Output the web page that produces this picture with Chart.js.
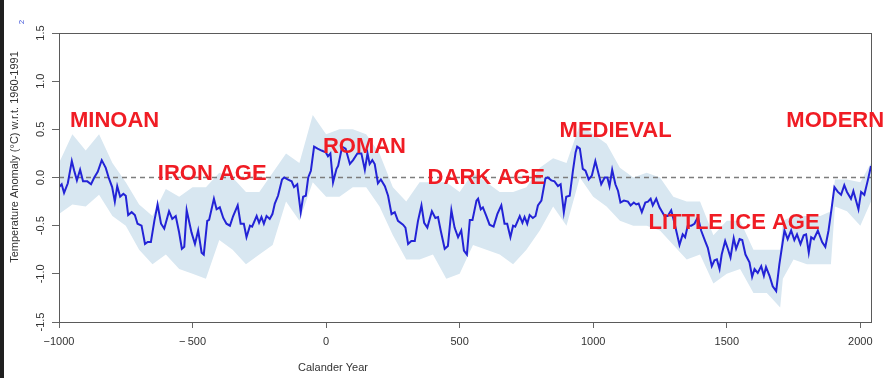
<!DOCTYPE html>
<html>
<head>
<meta charset="utf-8">
<script src="https://cdn.jsdelivr.net/npm/chart.js@4.4.0/dist/chart.umd.min.js"></script>
<style>
  html, body { margin: 0; padding: 0; background: #fff; }
  #wrap { position: relative; width: 887px; height: 378px; }
  #edge { position: absolute; left: 0; top: 0; width: 4px; height: 378px; background: #1f1f1f; }
</style>
</head>
<body>
<div id="wrap">
  <canvas id="chart" width="887" height="378"></canvas>
  <div id="edge"></div>
</div>
<script>
// reconstruction (calendar year) and anomaly in degC
var years = [
  -1000,-990,-981,-967,-952,-943,-933,-921,-910,-894,-880,-868,-855,-840,-825,-813,-801,-791,-782,-771,
  -759,-750,-741,-728,-716,-706,-691,-678,-668,-656,-643,-631,-618,-606,-588,-576,-563,-551,-540,-531,
  -522,-504,-491,-479,-466,-458,-445,-438,-420,-410,-398,-385,-373,-360,-348,-331,-320,-308,-298,-285,
  -277,-260,-251,-242,-233,-223,-211,-201,-192,-180,-165,-157,-144,-129,-120,-108,-95,-86,-76,-67,
  -57,-45,-32,-17,-1,7,16,26,39,45,60,73,89,101,117,132,145,155,163,173,
  182,194,205,220,232,245,257,269,288,297,307,319,332,344,357,367,379,396,409,419,
  429,444,456,469,481,494,506,516,527,538,548,563,569,579,587,600,612,627,641,656,
  668,678,690,700,708,725,735,743,753,762,774,784,793,806,821,830,843,855,868,878,
  890,899,912,924,934,940,950,961,971,983,995,1008,1020,1030,1043,1053,1061,1071,1083,1093,
  1102,1115,1130,1140,1152,1161,1170,1182,1195,1205,1215,1223,1236,1248,1267,1279,1292,1304,1323,1335,
  1344,1354,1367,1379,1392,1404,1419,1429,1444,1454,1463,1473,1481,1494,1504,1514,1526,1535,1548,1558,
  1570,1585,1595,1604,1616,1629,1639,1647,1660,1672,1685,1697,1716,1728,1741,1753,1763,1776,1788,1797,
  1807,1816,1826,1841,1857,1869,1881,1893,1903,1916,1928,1940,1950,1965,1974,1993,2003,2015,2028,2040
];
var anomaly = [
  -0.10,-0.07,-0.16,-0.06,0.17,0.07,-0.03,0.08,-0.04,-0.04,-0.07,0.00,0.06,0.18,0.10,-0.01,-0.10,-0.25,-0.09,-0.20,
  -0.17,-0.19,-0.39,-0.36,-0.39,-0.48,-0.50,-0.69,-0.67,-0.67,-0.45,-0.28,-0.48,-0.53,-0.35,-0.43,-0.40,-0.56,-0.74,-0.72,
  -0.34,-0.57,-0.69,-0.55,-0.78,-0.80,-0.45,-0.44,-0.22,-0.33,-0.31,-0.42,-0.48,-0.50,-0.40,-0.29,-0.48,-0.48,-0.62,-0.50,
  -0.51,-0.40,-0.47,-0.41,-0.48,-0.40,-0.43,-0.38,-0.27,-0.19,-0.02,0.00,-0.02,-0.04,-0.10,-0.07,-0.36,-0.20,-0.19,0.00,
  0.07,0.32,0.30,0.28,0.26,0.22,0.25,-0.05,0.09,0.12,0.32,0.30,0.14,0.18,0.25,0.25,0.08,0.25,0.14,0.18,
  0.14,-0.06,-0.02,-0.09,-0.19,-0.38,-0.36,-0.45,-0.49,-0.52,-0.69,-0.66,-0.66,-0.45,-0.29,-0.47,-0.52,-0.35,-0.42,-0.41,
  -0.55,-0.74,-0.71,-0.34,-0.52,-0.62,-0.55,-0.76,-0.80,-0.44,-0.44,-0.24,-0.22,-0.33,-0.31,-0.40,-0.49,-0.51,-0.38,-0.29,
  -0.48,-0.48,-0.62,-0.50,-0.51,-0.40,-0.47,-0.41,-0.48,-0.39,-0.42,-0.40,-0.29,-0.24,-0.01,0.00,-0.03,-0.04,-0.09,-0.07,
  -0.36,-0.20,-0.19,0.07,0.26,0.32,0.30,0.09,0.07,-0.02,0.02,0.17,0.04,-0.07,0.00,0.00,-0.09,0.08,-0.07,-0.14,
  -0.26,-0.24,-0.25,-0.29,-0.26,-0.28,-0.27,-0.36,-0.26,-0.25,-0.22,-0.29,-0.22,-0.31,-0.40,-0.40,-0.34,-0.47,-0.70,-0.59,
  -0.62,-0.50,-0.50,-0.48,-0.41,-0.55,-0.66,-0.73,-0.92,-0.86,-0.85,-0.95,-0.80,-0.66,-0.74,-0.83,-0.63,-0.74,-0.64,-0.65,
  -0.80,-0.88,-1.03,-0.95,-0.99,-0.92,-1.02,-0.93,-1.02,-1.13,-1.18,-0.90,-0.55,-0.64,-0.55,-0.65,-0.59,-0.69,-0.60,-0.59,
  -0.78,-0.62,-0.64,-0.55,-0.67,-0.72,-0.55,-0.31,-0.10,-0.15,-0.18,-0.08,-0.15,-0.22,-0.14,-0.33,-0.15,-0.18,-0.03,0.12
];

// uncertainty envelope
var bandYears = [
  -1000,-950,-900,-850,-800,-750,-700,-650,-600,-550,-500,-450,-400,-350,-300,-250,-200,-150,-100,-50,
  0,50,100,150,200,250,300,350,400,450,500,550,600,650,700,750,800,850,900,950,
  1000,1050,1100,1150,1200,1250,1300,1350,1400,1450,1500,1550,1600,1650,1700,1710,1750,1800,1850,1890,
  1905,1950,2000,2040
];
var bandUpper = [
  0.15,0.45,0.28,0.45,0.15,-0.05,-0.28,-0.40,-0.12,-0.20,-0.10,-0.10,0.05,0.00,-0.15,-0.15,0.05,0.25,0.15,0.65,
  0.45,0.50,0.50,0.45,0.25,-0.10,-0.25,-0.05,-0.05,-0.05,-0.15,0.05,-0.05,-0.15,-0.15,-0.10,0.10,0.20,0.15,0.55,
  0.45,0.35,0.10,0.00,0.05,0.00,-0.20,-0.25,-0.25,-0.60,-0.45,-0.45,-0.75,-0.75,-0.75,-0.45,-0.40,-0.40,-0.40,-0.35,
  -0.02,-0.02,-0.05,0.15
];
var bandLower = [
  -0.38,-0.28,-0.30,-0.18,-0.40,-0.50,-0.75,-0.90,-0.80,-0.95,-1.00,-1.05,-0.65,-0.75,-0.90,-0.80,-0.70,-0.25,-0.45,-0.05,
  -0.20,-0.20,-0.10,-0.10,-0.30,-0.60,-0.85,-0.85,-0.80,-1.05,-1.00,-0.70,-0.75,-0.80,-0.90,-0.75,-0.55,-0.30,-0.50,0.00,
  -0.20,-0.30,-0.45,-0.50,-0.50,-0.55,-0.70,-0.85,-0.80,-1.10,-1.00,-0.95,-1.20,-1.20,-1.35,-1.05,-0.85,-0.90,-0.90,-0.90,
  -0.30,-0.35,-0.50,-0.25
];

var xTicks = [-1000, -500, 0, 500, 1000, 1500, 2000];
var yTicks = [-1.5, -1.0, -0.5, 0.0, 0.5, 1.0, 1.5];

var eraNames = ['MINOAN', 'IRON AGE', 'ROMAN', 'DARK AGE', 'MEDIEVAL', 'LITTLE ICE AGE', 'MODERN'];
var eraYears = [-959, -630, -12, 380, 874, 1207, 1723];
var eraValues = [0.52, -0.03, 0.25, -0.07, 0.42, -0.53, 0.52];

function pts(xs, ys) {
  return xs.map(function (x, i) { return { x: x, y: ys[i] }; });
}

function fmtX(v) {
  if (v < 0) return v === -1000 ? '\u22121000' : '\u2212\u2009' + Math.abs(v);
  return String(v);
}

var decorations = {
  id: 'decorations',
  afterDraw: function (chart) {
    var c = chart.ctx, a = chart.chartArea;
    var xs = chart.scales.x, ys = chart.scales.y;
    c.save();
    // plot box
    c.strokeStyle = '#5a5a5a';
    c.lineWidth = 1;
    c.strokeRect(a.left + 0.5, a.top + 0.5, a.right - a.left, a.bottom - a.top);

    // rotated y tick labels
    c.fillStyle = '#333';
    c.font = '11px "Liberation Sans", Arial, sans-serif';
    c.textAlign = 'center';
    c.textBaseline = 'middle';
    yTicks.forEach(function (v) {
      c.save();
      c.translate(41, ys.getPixelForValue(v));
      c.rotate(-Math.PI / 2);
      c.fillText(v.toFixed(1), 0, 0);
      c.restore();
    });

    // axis titles
    c.save();
    c.translate(15, 157);
    c.rotate(-Math.PI / 2);
    c.fillText('Temperature Anomaly (\u00B0C) w.r.t. 1960-1991', 0, 0);
    c.restore();
    c.fillText('Calander Year', 333, 368);

    // small mark in corner
    c.save();
    c.fillStyle = '#3a4fd8';
    c.font = '8px "Liberation Sans", Arial, sans-serif';
    c.translate(22, 22);
    c.rotate(-Math.PI / 2);
    c.fillText('2', 0, 0);
    c.restore();

    // era labels
    c.fillStyle = '#f01c24';
    c.font = 'bold 22px "Liberation Sans", Arial, sans-serif';
    c.textAlign = 'left';
    c.textBaseline = 'alphabetic';
    eraNames.forEach(function (name, i) {
      c.fillText(name, xs.getPixelForValue(eraYears[i]), ys.getPixelForValue(eraValues[i]));
    });
    c.restore();
  }
};

var ctx = document.getElementById('chart').getContext('2d');
var chart = new Chart(ctx, {
  type: 'line',
  data: {
    datasets: [
      {
        label: 'Temperature anomaly',
        data: pts(years, anomaly),
        borderColor: '#2323d6',
        borderWidth: 2,
        pointRadius: 0,
        tension: 0,
        fill: false,
        order: 0
      },
      {
        label: 'zero',
        data: [{ x: -1000, y: 0 }, { x: 2040, y: 0 }],
        borderColor: '#7d7d7d',
        borderWidth: 1.3,
        borderDash: [5, 4],
        pointRadius: 0,
        fill: false,
        order: 1
      },
      {
        label: 'upper',
        data: pts(bandYears, bandUpper),
        borderWidth: 0,
        borderColor: 'rgba(0,0,0,0)',
        backgroundColor: '#d8e7f1',
        pointRadius: 0,
        tension: 0,
        fill: '+1',
        order: 2
      },
      {
        label: 'lower',
        data: pts(bandYears, bandLower),
        borderWidth: 0,
        borderColor: 'rgba(0,0,0,0)',
        pointRadius: 0,
        tension: 0,
        fill: false,
        order: 3
      }
    ]
  },
  options: {
    responsive: false,
    animation: false,
    devicePixelRatio: 1,
    layout: { padding: { left: 0, top: 33, right: 16, bottom: 0 } },
    plugins: { legend: { display: false }, tooltip: { enabled: false } },
    scales: {
      x: {
        type: 'linear',
        min: -1000,
        max: 2040,
        afterBuildTicks: function (s) { s.ticks = xTicks.map(function (v) { return { value: v }; }); },
        afterFit: function (s) { s.height = 56; },
        ticks: {
          autoSkip: false,
          maxRotation: 0,
          padding: 7,
          color: '#333',
          font: { family: '"Liberation Sans", Arial, sans-serif', size: 11 },
          callback: function (v) { return fmtX(v); }
        },
        grid: { drawOnChartArea: false, drawTicks: true, tickLength: 6, color: '#666' },
        border: { display: false }
      },
      y: {
        min: -1.5,
        max: 1.5,
        afterBuildTicks: function (s) { s.ticks = yTicks.map(function (v) { return { value: v }; }); },
        afterFit: function (s) { s.width = 59; },
        ticks: { display: false },
        grid: { drawOnChartArea: false, drawTicks: true, tickLength: 7, color: '#666' },
        border: { display: false }
      }
    }
  },
  plugins: [decorations]
});
</script>
</body>
</html>
